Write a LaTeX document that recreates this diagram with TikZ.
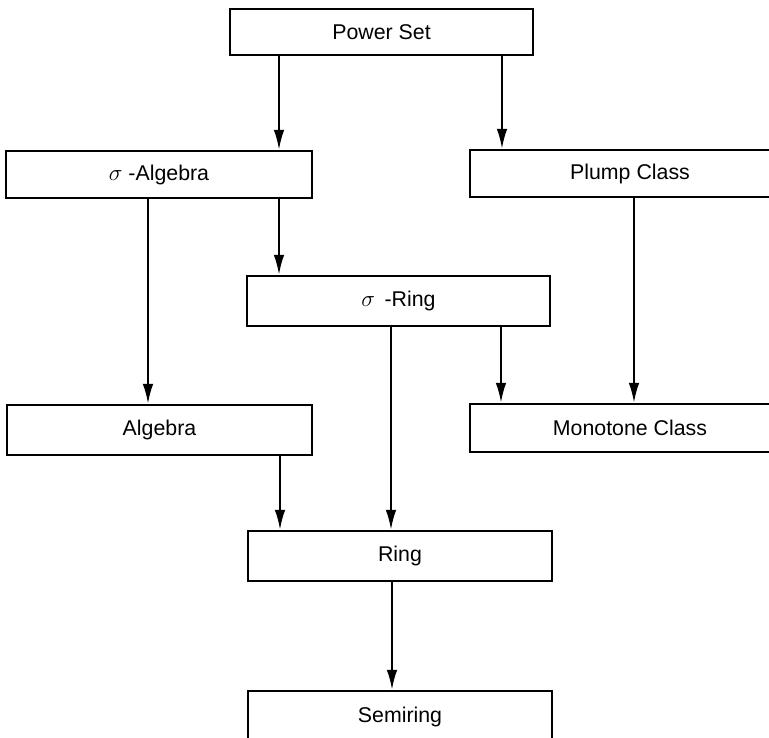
\documentclass[tikz,border=0pt]{standalone}
\usepackage{fontspec}
\setmainfont{Liberation Sans}
\usetikzlibrary{arrows.meta}
\begin{document}
\begin{tikzpicture}[x=0.75pt,y=-0.75pt,
  box/.style={draw, line width=1.8pt, rectangle, inner sep=0pt, font=\fontsize{16}{19}\selectfont},
  arr/.style={line width=1.6pt, -{Latex[length=15pt,width=8pt]}}]
\useasboundingbox (0,0) rectangle (769,738);
\fill[white] (0,0) rectangle (769,738);
\node[box, minimum width=303*0.75pt, minimum height=46*0.75pt] (power) at (381.5,32) {Power Set};
\node[box, minimum width=306*0.75pt, minimum height=47*0.75pt] (salg) at (159,174.5) {{\fontsize{19}{19}\selectfont$\sigma$} -Algebra};
\node[box, minimum width=320*0.75pt, minimum height=47*0.75pt] (plump) at (630,173.5) {Plump Class};
\node[box, minimum width=303*0.75pt, minimum height=50*0.75pt] (sring) at (398.5,301) {{\fontsize{19}{19}\selectfont$\sigma$} \,-Ring};
\node[box, minimum width=305*0.75pt, minimum height=50*0.75pt] (alg) at (159.5,430) {Algebra};
\node[box, minimum width=320*0.75pt, minimum height=48*0.75pt] (mono) at (630,428) {Monotone Class};
\node[box, minimum width=304*0.75pt, minimum height=50*0.75pt] (ring) at (400,556) {Ring};
\node[box, minimum width=304*0.75pt, minimum height=90*0.75pt] (semi) at (400,736) {};
\node[font=\fontsize{16}{19}\selectfont] (semitext) at (400,717) {Semiring};
\draw[arr] (power.south -| 279,0) -- (salg.north -| 279,0);
\draw[arr] (power.south -| 502,0) -- (plump.north -| 502,0);
\draw[arr] (salg.south -| 148,0) -- (alg.north -| 148,0);
\draw[arr] (salg.south -| 279,0) -- (sring.north -| 279,0);
\draw[arr] (plump.south -| 634,0) -- (mono.north -| 634,0);
\draw[arr] (sring.south -| 501,0) -- (mono.north -| 501,0);
\draw[arr] (sring.south -| 391,0) -- (ring.north -| 391,0);
\draw[arr] (alg.south -| 280,0) -- (ring.north -| 280,0);
\draw[arr] (ring.south -| 392,0) -- (semi.north -| 392,0);
\end{tikzpicture}
\end{document}
